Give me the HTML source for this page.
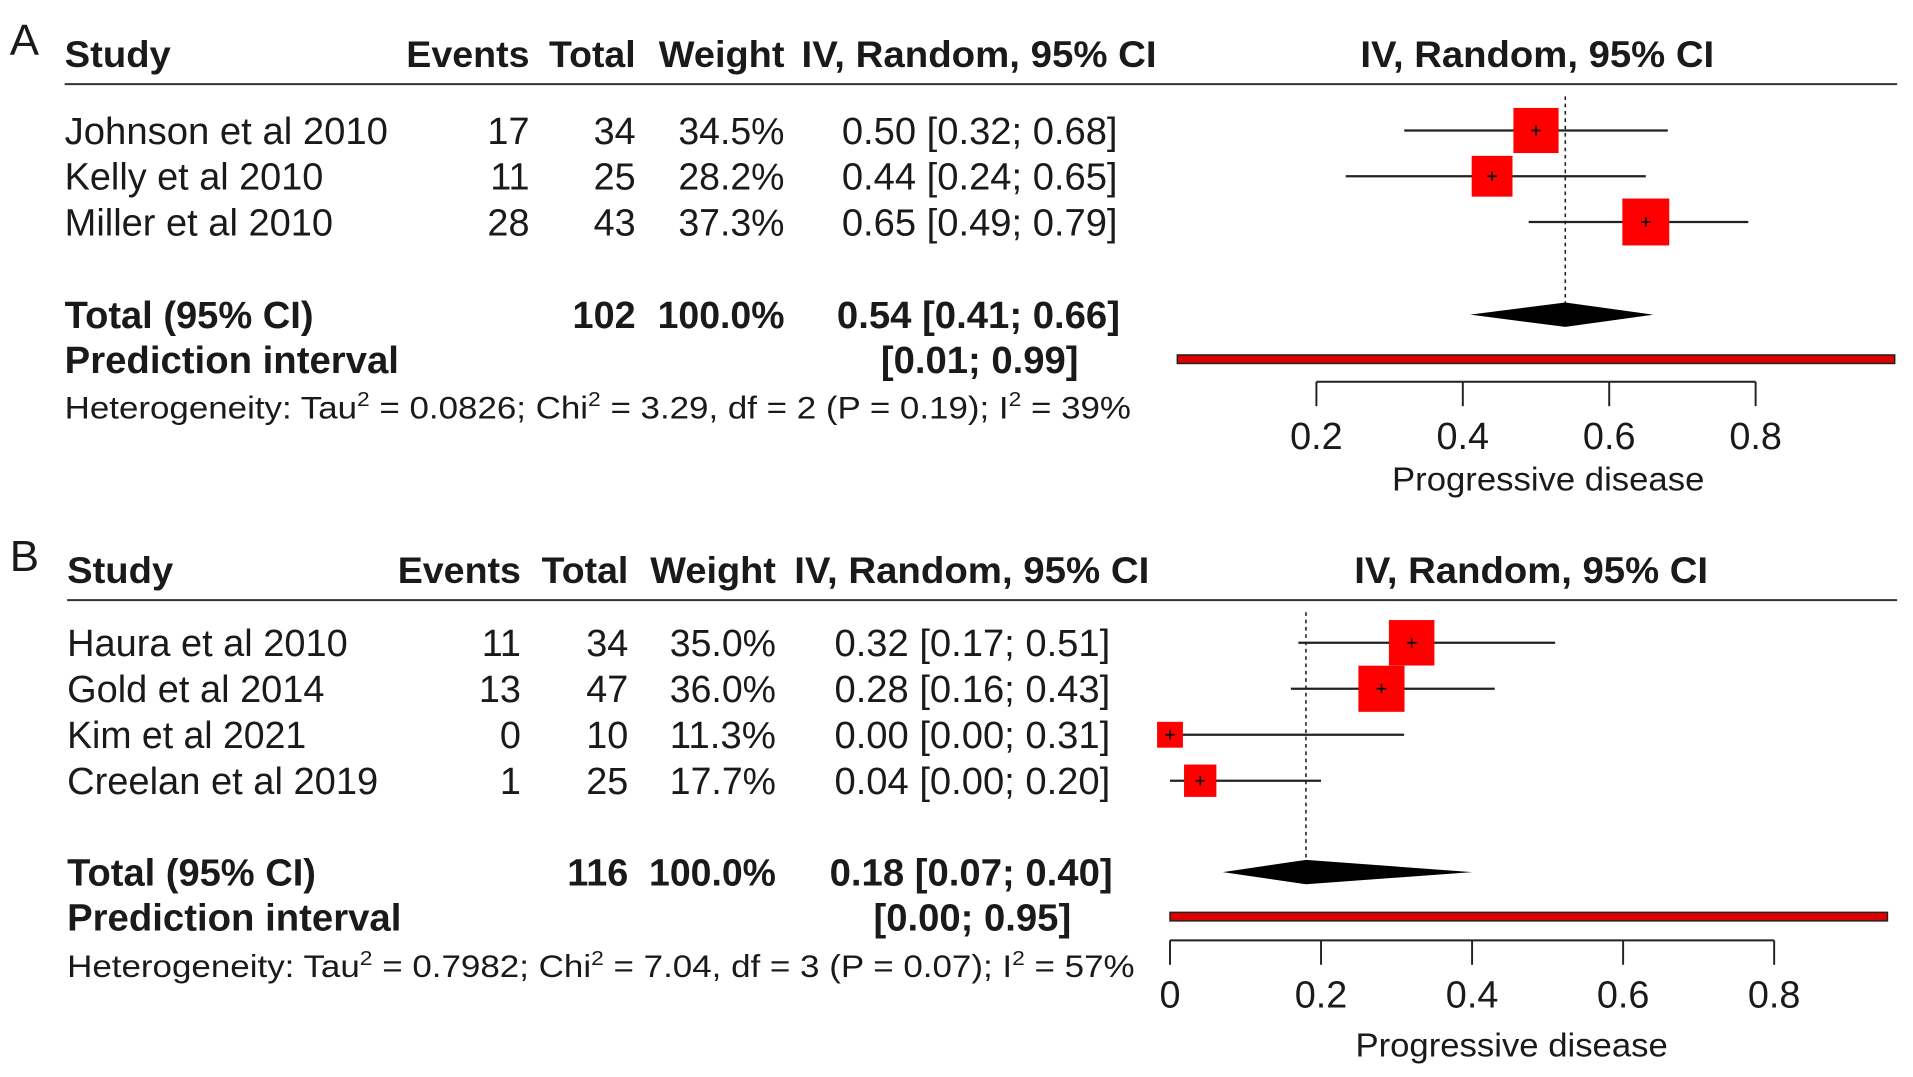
<!DOCTYPE html>
<html><head><meta charset="utf-8"><style>
html,body{margin:0;padding:0;background:#fff;}
svg{display:block;}
text{font-family:"Liberation Sans",Arial,sans-serif;fill:#1a1a1a;}
</style></head><body>
<svg id="chart" width="1913" height="1077" viewBox="0 0 1568 883" preserveAspectRatio="none" xmlns="http://www.w3.org/2000/svg"></svg>
<script>
// Panel A data
const studiesA = ["Johnson et al 2010","Kelly et al 2010","Miller et al 2010"];
const eventsA = [17,11,28];
const totalsA = [34,25,43];
const weightsA = [34.5,28.2,37.3];
const estA = [0.50,0.44,0.65];
const lowA = [0.32,0.24,0.49];
const highA = [0.68,0.65,0.79];
const pooledA = [0.54,0.41,0.66];
const predA = [0.01,0.99];
const ticksA = [0.2,0.4,0.6,0.8];
// Panel B data
const studiesB = ["Haura et al 2010","Gold et al 2014","Kim et al 2021","Creelan et al 2019"];
const eventsB = [11,13,0,1];
const totalsB = [34,47,10,25];
const weightsB = [35.0,36.0,11.3,17.7];
const estB = [0.32,0.28,0.00,0.04];
const lowB = [0.17,0.16,0.00,0.00];
const highB = [0.51,0.43,0.31,0.20];
const pooledB = [0.18,0.07,0.40];
const predB = [0.00,0.95];
const ticksB = [0,0.2,0.4,0.6,0.8];

const NS="http://www.w3.org/2000/svg";
const svg=document.getElementById('chart');
function el(tag,attrs,parent){const e=document.createElementNS(NS,tag);for(const k in attrs)e.setAttribute(k,attrs[k]);(parent||svg).appendChild(e);return e;}
function txt(x,y,s,size,bold,anchor,len,parent){
  const e=el('text',{x:x,y:y,'font-size':size,'font-weight':bold?'bold':'normal','text-anchor':anchor||'start'},parent);
  if(len){e.setAttribute('textLength',len);e.setAttribute('lengthAdjust','spacingAndGlyphs');}
  e.textContent=s;return e;}
function f2(v){return v.toFixed(2);}

function panel(cfg){
  const g=el('g',{});
  
  
  const L=txt(cfg.labelX,cfg.hy-10,cfg.letter,36,false,'start',null,g);
  
  
  const hy=cfg.hy, c=cfg.cols;
  const hdr=[["Study",c.study,'start',87],["Events",c.ev,'end',101],["Total",c.tot,'end',71],["Weight",c.w,'end',103],["IV, Random, 95% CI",c.ci+32-291,'start',291],["IV, Random, 95% CI",cfg.rh,'middle',290]];
  hdr.forEach(h=>{const t=txt(h[1],hy,h[0],30,true,h[2],h[3],g);
    
    });
  const hl=el('line',{x1:c.study,x2:1555,y1:hy+14,y2:hy+14,stroke:'#333','stroke-width':1.6},g);
  
  
  const X=v=>cfg.x0+v*cfg.ppu;
  const dl=el('line',{x1:X(cfg.pooled[0]),x2:X(cfg.pooled[0]),y1:hy+24,y2:cfg.totY-10,stroke:'#222','stroke-width':1.3,'stroke-dasharray':'3,3'},g);
  
  
  cfg.studies.forEach((s,i)=>{
    const y=cfg.rowY0+i*cfg.rowH;
    const n=txt(c.study,y+11,s,31,false,'start',cfg.nameW[i],g);
    
    
    const a=txt(c.ev,y+11,String(cfg.events[i]),31,false,'end',null,g);
    
    
    const b=txt(c.tot,y+11,String(cfg.totals[i]),31,false,'end',null,g);
    
    
    const w=txt(c.w,y+11,cfg.weights[i].toFixed(1)+'%',31,false,'end',87,g);
    
    
    const ci=txt(c.ci,y+11,f2(cfg.est[i])+' ['+f2(cfg.low[i])+'; '+f2(cfg.high[i])+']',31,false,'end',226,g);
    
    
    const ln=el('line',{x1:X(cfg.low[i]),x2:X(cfg.high[i]),y1:y,y2:y,stroke:'#222','stroke-width':1.8},g);
    
    
    const sz=Math.sqrt(cfg.weights[i])*6.3;
    const r=el('rect',{x:X(cfg.est[i])-sz/2,y:y-sz/2,width:sz,height:sz,fill:'#f00'},g);
    
    
    const p=el('path',{d:'M'+(X(cfg.est[i])-4)+' '+y+'h8M'+X(cfg.est[i])+' '+(y-4)+'v8',stroke:'#111','stroke-width':1.4},g);
    
    
  });
  const ty=cfg.totY;
  const t1=txt(c.study,ty+11,"Total (95% CI)",31,true,'start',204,g);
  
  
  const t2=txt(c.tot,ty+11,String(cfg.sumN),31,true,'end',null,g);
  
  
  const t3=txt(c.w,ty+11,"100.0%",31,true,'end',104,g);
  
  
  const t4=txt(c.ci+2,ty+11,f2(cfg.pooled[0])+' ['+f2(cfg.pooled[1])+'; '+f2(cfg.pooled[2])+']',31,true,'end',232,g);
  
  
  const dm=el('polygon',{points:X(cfg.pooled[1])+','+ty+' '+X(cfg.pooled[0])+','+(ty-10)+' '+X(cfg.pooled[2])+','+ty+' '+X(cfg.pooled[0])+','+(ty+10),fill:'#000'},g);
  
  
  const py=ty+37;
  const p1=txt(c.study,py+11,"Prediction interval",31,true,'start',274,g);
  
  
  const p2=txt(c.ci-32,py+11,'['+f2(cfg.pred[0])+'; '+f2(cfg.pred[1])+']',31,true,'end',162,g);
  
  
  const pb=el('rect',{x:X(cfg.pred[0]),y:py-4,width:X(cfg.pred[1])-X(cfg.pred[0]),height:7,fill:'#d00',stroke:'#222','stroke-width':1.2},g);
  
  
  const het=el('text',{x:c.study,y:cfg.hetY,'font-size':26,textLength:cfg.hetW,lengthAdjust:'spacingAndGlyphs'},g);
  
  
  het.innerHTML='Heterogeneity: Tau<tspan dy="-10" font-size="17">2</tspan><tspan dy="10"> = '+cfg.het[0]+'; Chi</tspan><tspan dy="-10" font-size="17">2</tspan><tspan dy="10"> = '+cfg.het[1]+', df = '+cfg.het[2]+' (P = '+cfg.het[3]+'); I</tspan><tspan dy="-10" font-size="17">2</tspan><tspan dy="10"> = '+cfg.het[4]+'</tspan>';
  const ay=cfg.axisY, tk=cfg.ticks;
  const ax=el('line',{x1:X(tk[0]),x2:X(tk[tk.length-1]),y1:ay,y2:ay,stroke:'#222','stroke-width':1.6},g);
  
  
  tk.forEach(v=>{
    const tl=el('line',{x1:X(v),x2:X(v),y1:ay,y2:ay+20,stroke:'#222','stroke-width':1.6},g);
    
    
    const lb=txt(X(v),ay+55,v===0?'0':v.toFixed(1),31,false,'middle',null,g);
    
    
  });
  const xt=txt(cfg.xtX,cfg.xtY,"Progressive disease",27,false,'middle',256,g);
  
  
}
panel({name:'panel-a',letter:'A',labelX:8,hy:55,cols:{study:53,ev:434,tot:521,w:643,ci:916},rh:1260,
  x0:959,ppu:600,studies:studiesA,events:eventsA,totals:totalsA,weights:weightsA,est:estA,low:lowA,high:highA,
  nameW:[265,212,220],rowY0:107,rowH:37.5,totY:258,sumN:102,pooled:pooledA,pred:predA,
  het:['0.0826','3.29','2','0.19','39%'],hetY:343,hetW:874,axisY:313,ticks:ticksA,xtX:1269,xtY:402});
panel({name:'panel-b',letter:'B',labelX:8,hy:478,cols:{study:55,ev:427,tot:515,w:636,ci:910},rh:1255,
  x0:959,ppu:619,studies:studiesB,events:eventsB,totals:totalsB,weights:weightsB,est:estB,low:lowB,high:highB,
  nameW:[230,211,196,255],rowY0:527,rowH:37.7,totY:715,sumN:116,pooled:pooledB,pred:predB,
  het:['0.7982','7.04','3','0.07','57%'],hetY:801,hetW:875,axisY:771,ticks:ticksB,xtX:1239,xtY:866});
</script>
</body></html>
